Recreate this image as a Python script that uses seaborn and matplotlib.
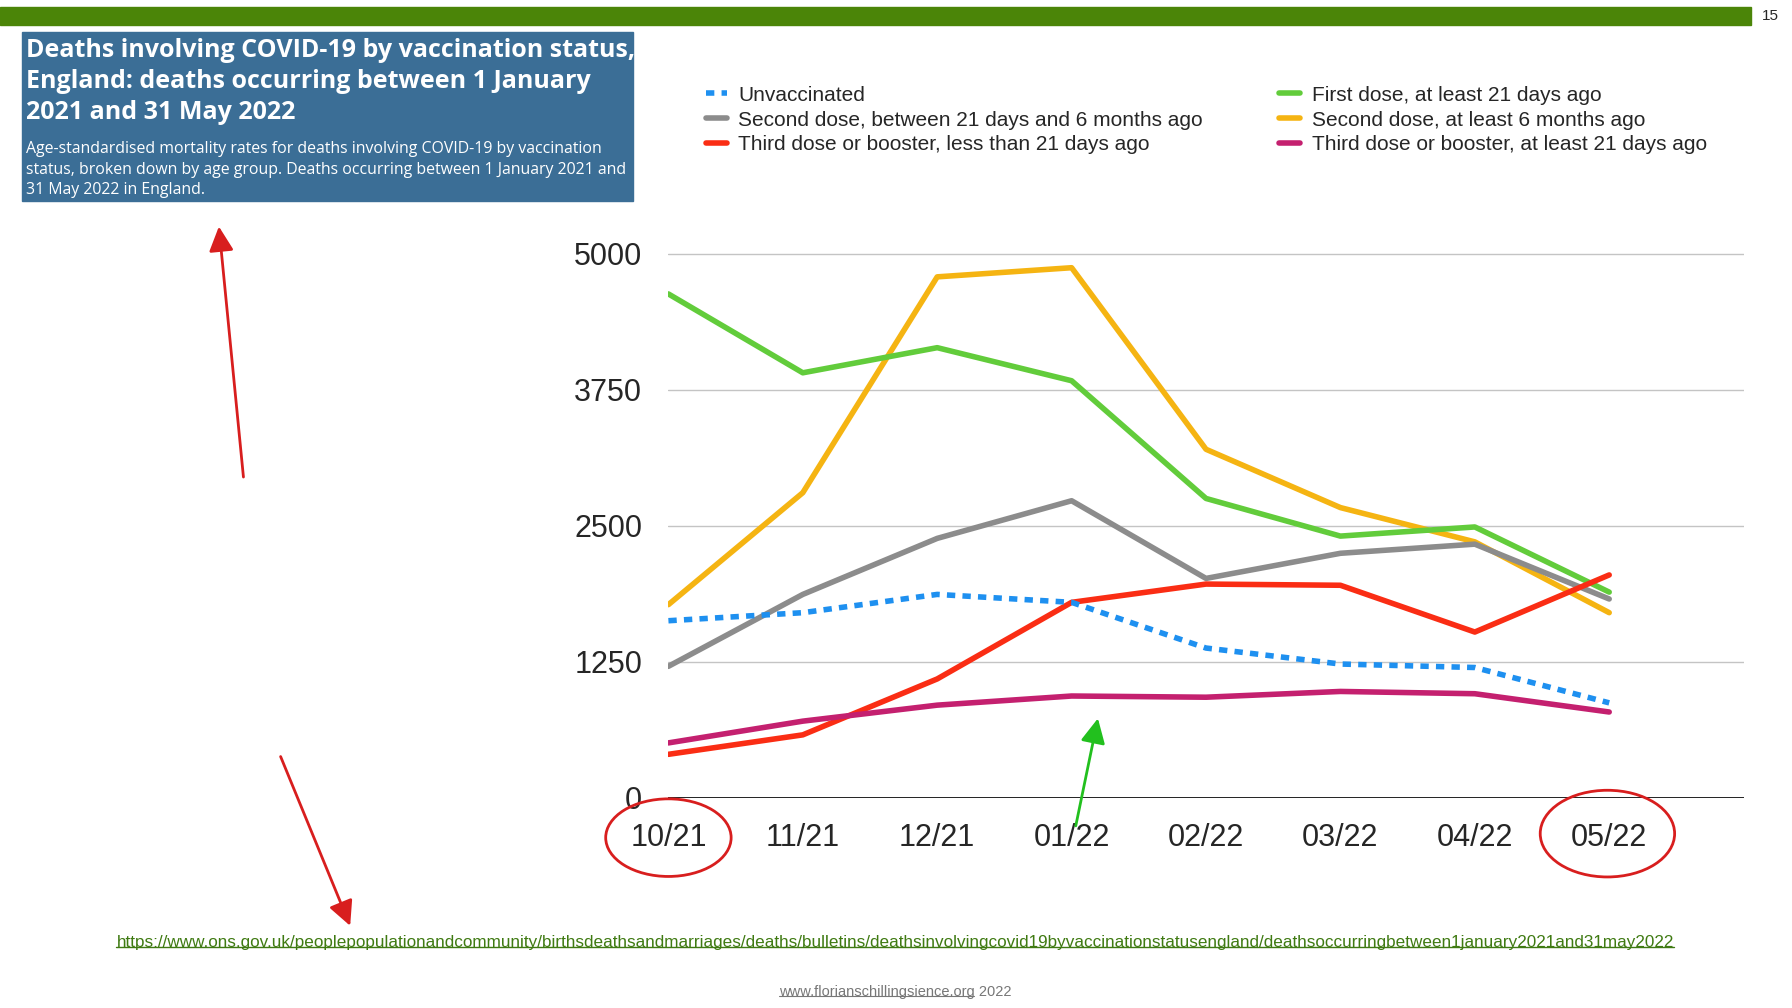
import pandas as pd
import matplotlib
matplotlib.use('Agg')
import matplotlib.pyplot as plt
import seaborn as sns
from matplotlib.lines import Line2D
from matplotlib.patches import Ellipse, Rectangle

# Data (age-standardised mortality rates)
months = ['10/21', '11/21', '12/21', '01/22', '02/22', '03/22', '04/22', '05/22']
unvaccinated = [1627, 1701, 1869, 1796, 1376, 1229, 1197, 872]
first_21d = [4631, 3906, 4137, 3833, 2751, 2405, 2489, 1890]
second_21d_6m = [1208, 1869, 2384, 2730, 2016, 2247, 2331, 1827]
second_6m = [1775, 2804, 4788, 4872, 3203, 2667, 2352, 1701]
third_lt21d = [399, 578, 1092, 1796, 1964, 1953, 1523, 2048]
third_21d = [504, 704, 851, 935, 924, 977, 956, 788]

labels = ['Unvaccinated',
          'Second dose, between 21 days and 6 months ago',
          'Third dose or booster, less than 21 days ago',
          'First dose, at least 21 days ago',
          'Second dose, at least 6 months ago',
          'Third dose or booster, at least 21 days ago']
series = [unvaccinated, second_21d_6m, third_lt21d, first_21d, second_6m, third_21d]
colors = ['#1e90f0', '#8c8c8c', '#fa2d14', '#62cc3b', '#f5b412', '#c4206f']

rows = []
for lab, vals in zip(labels, series):
    for m, v in zip(months, vals):
        rows.append({'month': m, 'rate': v, 'status': lab})
df = pd.DataFrame(rows)

sns.set_style('white')
plt.rcParams['font.family'] = ['Liberation Sans', 'DejaVu Sans']

fig = plt.figure(figsize=(17.92, 10.08), dpi=100)
ax = fig.add_axes([0.373, 0.2086, 0.600, 0.572])

palette = dict(zip(labels, colors))
dashes = {lab: (1.5, 1.3) if lab == 'Unvaccinated' else '' for lab in labels}
draw_order = [labels[4], labels[3], labels[1], labels[2], labels[5], labels[0]]
sns.lineplot(data=df, x='month', y='rate', hue='status', style='status',
             hue_order=draw_order, style_order=draw_order,
             palette=palette, dashes=dashes, linewidth=4, sort=False,
             legend=False, ax=ax)

ax.set_xlim(0, 8)
ax.set_ylim(0, 5300)
ax.set_yticks([0, 1250, 2500, 3750, 5000])
ax.set_xticks(range(len(months)))
ax.set_xticklabels(months)
ax.grid(axis='y', color='#c4c4c4', linewidth=1)
ax.grid(axis='x', visible=False)
ax.axhline(0, color='black', linewidth=1.2)
for s in ax.spines.values():
    s.set_visible(False)
ax.tick_params(axis='y', length=0, pad=19, labelsize=22)
ax.tick_params(axis='x', length=0, pad=18, labelsize=22)
ax.set_xlabel('')
ax.set_ylabel('')

# legend in two columns
handles = [Line2D([0], [0], color=c, linewidth=4,
                  linestyle=(0, (1.5, 1.3)) if l == 'Unvaccinated' else '-')
           for l, c in zip(labels, colors)]
leg_kw = dict(loc='upper left', frameon=False, fontsize=15, handlelength=1.0,
              handletextpad=0.55, labelspacing=0.28, borderpad=0, borderaxespad=0)
fig.legend(handles[:3], labels[:3], bbox_to_anchor=(0.394, 0.915), **leg_kw)
fig.legend(handles[3:], labels[3:], bbox_to_anchor=(0.714, 0.915), **leg_kw)

# slide decorations
fig.patches.append(Rectangle((0, 0.975), 0.977, 0.018, transform=fig.transFigure,
                             color='#4b8508', zorder=0))
fig.text(0.988, 0.984, '15', fontsize=11, ha='center', va='center')
fig.patches.append(Rectangle((0.0123, 0.801), 0.341, 0.167, transform=fig.transFigure,
                             color='#3b6e96', zorder=0))
fig.text(0.0145, 0.962,
         'Deaths involving COVID-19 by vaccination status,\nEngland: deaths occurring between 1 January\n2021 and 31 May 2022',
         family=['Open Sans', 'DejaVu Sans'], fontweight='bold', fontsize=18,
         color='white', va='top', ha='left', linespacing=1.32)
fig.text(0.0145, 0.860,
         'Age-standardised mortality rates for deaths involving COVID-19 by vaccination\nstatus, broken down by age group. Deaths occurring between 1 January 2021 and\n31 May 2022 in England.',
         family=['Open Sans', 'DejaVu Sans'], fontsize=11.4,
         color='white', va='top', ha='left', linespacing=1.38)

url = fig.text(0.4995, 0.065,
               'https://www.ons.gov.uk/peoplepopulationandcommunity/birthsdeathsandmarriages/deaths/bulletins/deathsinvolvingcovid19byvaccinationstatusengland/deathsoccurringbetween1january2021and31may2022',
               fontsize=12.3, color='#3f7a12', ha='center', va='center')
foot = fig.text(0.4995, 0.016, 'www.florianschillingsience.org 2022', fontsize=10.5,
                color='#777777', ha='center', va='center')

# underline the links
fig.canvas.draw()
r = fig.canvas.get_renderer()
inv = fig.transFigure.inverted()
bb = inv.transform_bbox(url.get_window_extent(r))
fig.add_artist(Line2D([bb.x0, bb.x1], [bb.y0 + 0.003, bb.y0 + 0.003], color='#3f7a12',
                      linewidth=1, transform=fig.transFigure))
bb = inv.transform_bbox(foot.get_window_extent(r))
fig.add_artist(Line2D([bb.x0, bb.x0 + (bb.x1 - bb.x0) * 0.84], [bb.y0 + 0.003, bb.y0 + 0.003],
                      color='#777777', linewidth=0.8, transform=fig.transFigure))

# hand-drawn style annotations
for cx, cy, w, h in [(0.373, 0.169, 0.070, 0.077), (0.897, 0.173, 0.075, 0.086)]:
    fig.patches.append(Ellipse((cx, cy), w, h, transform=fig.transFigure, fill=False,
                               edgecolor='#d81e1e', linewidth=2))
for (x0, y0), (x1, y1), c in [((0.136, 0.524), (0.122, 0.778), '#d81e1e'),
                              ((0.156, 0.252), (0.196, 0.079), '#d81e1e'),
                              ((0.600, 0.178), (0.613, 0.290), '#22c01e')]:
    fig.add_artist(matplotlib.patches.FancyArrowPatch((x0, y0), (x1, y1),
                   transform=fig.transFigure, arrowstyle='-|>,head_length=10,head_width=5',
                   color=c, linewidth=2, mutation_scale=1.5))

fig.savefig('out.png', dpi=100)
